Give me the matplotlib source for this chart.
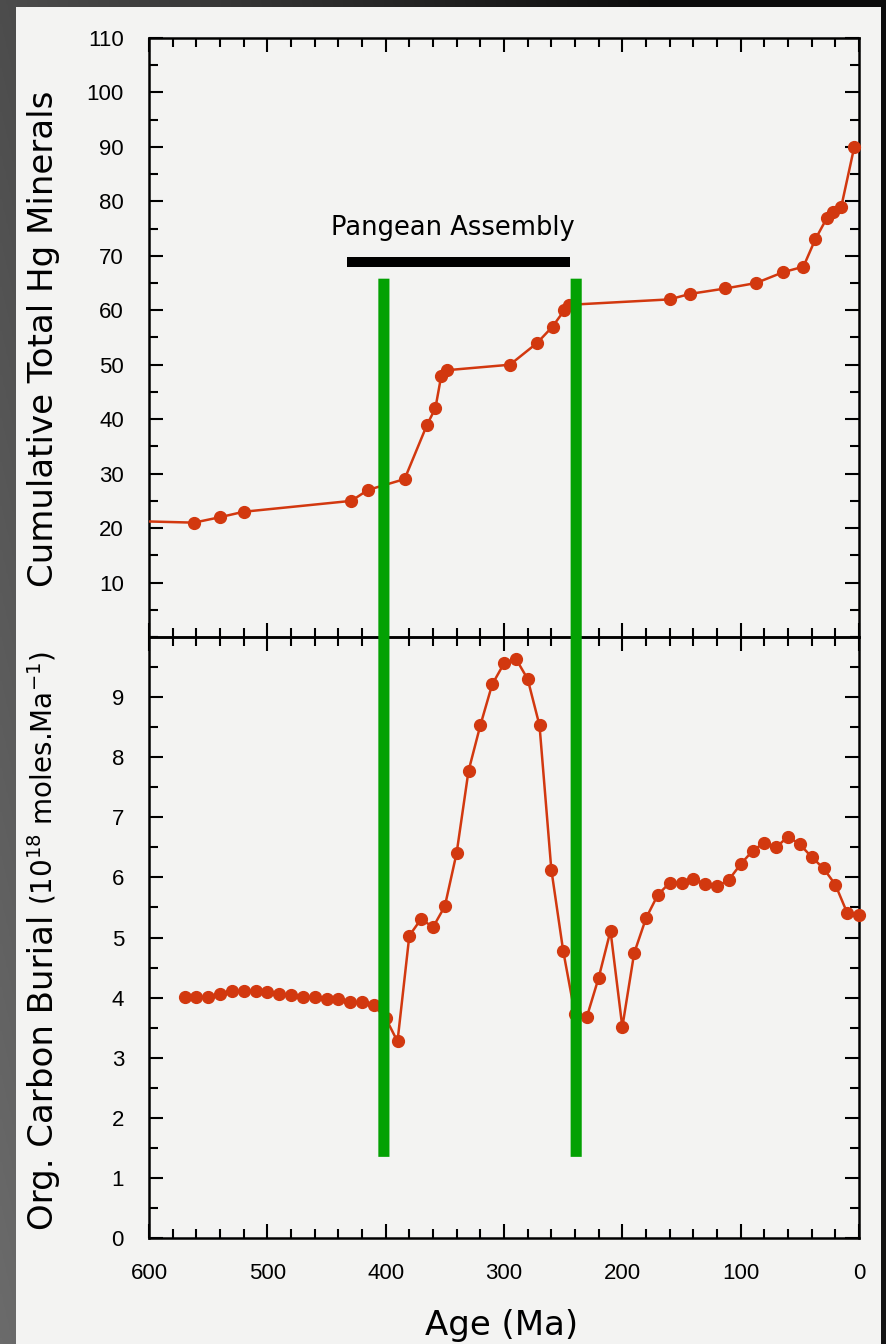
import numpy as np
import matplotlib
matplotlib.use("Agg")
import matplotlib.pyplot as plt
from matplotlib.patches import Rectangle, ConnectionPatch
from matplotlib.lines import Line2D
from matplotlib.ticker import MultipleLocator, FixedLocator

# ---- data -------------------------------------------------------------
# cumulative number of Hg minerals through time (age in Ma)
hg_age = [650, 562, 540, 520, 429, 415, 384, 365, 358, 353, 348, 295, 272,
          259, 249, 245, 160, 143, 113, 87, 64, 47, 37, 27, 22, 15, 4]
hg_total = [21.5, 21, 22, 23, 25, 27, 29, 39, 42, 48, 49, 50, 54,
            57, 60, 61, 62, 63, 64, 65, 67, 68, 73, 77, 78, 79, 90]

# organic carbon burial rate (10^18 moles per Ma)
burial_age = [570, 560, 550, 540, 530, 520, 510, 500, 490, 480, 470, 460,
              450, 440, 430, 420, 410, 400, 390, 380, 370, 360, 350, 340,
              330, 320, 310, 300, 290, 280, 270, 260, 250, 240, 230, 220,
              210, 200, 190, 180, 170, 160, 150, 140, 130, 120, 110, 100,
              90, 80, 70, 60, 50, 40, 30, 20, 10, 0]
burial_rate = [4.01, 4.01, 4.01, 4.06, 4.11, 4.11, 4.11, 4.10, 4.06, 4.05,
               4.01, 4.01, 3.97, 3.97, 3.92, 3.92, 3.87, 3.66, 3.27, 5.03,
               5.31, 5.17, 5.52, 6.41, 7.77, 8.53, 9.21, 9.56, 9.64, 9.30,
               8.53, 6.13, 4.78, 3.72, 3.68, 4.33, 5.11, 3.51, 4.74, 5.32,
               5.71, 5.91, 5.91, 5.98, 5.89, 5.85, 5.96, 6.22, 6.44, 6.58,
               6.50, 6.68, 6.55, 6.34, 6.15, 5.88, 5.41, 5.38]

# Pangean assembly interval and the two marker boundaries (Ma)
pangea_span = [433, 244]
pangea_level = 68.8
boundary_ages = [401.5, 239]
boundary_top = 65.8      # top panel units
boundary_bottom = 1.35   # bottom panel units

x_ticks = [600, 500, 400, 300, 200, 100, 0]
top_ticks = [10, 20, 30, 40, 50, 60, 70, 80, 90, 100, 110]
bottom_ticks = [0, 1, 2, 3, 4, 5, 6, 7, 8, 9]

# ---- style ------------------------------------------------------------
plt.rcParams['font.family'] = ['DejaVu Sans']
plt.rcParams['mathtext.fontset'] = 'dejavusans'
RED = '#d2380f'
GREEN = '#03a103'
PAPER = '#f3f3f2'
TICK_FONT = 'Liberation Sans'

W, H = 886, 1344
fig = plt.figure(figsize=(W / 100, H / 100), dpi=100)

# dark scanner surround with a soft gradient, plus the sheet of paper
bg = fig.add_axes([0, 0, 1, 1], zorder=-10)
bg.set_axis_off()
gx = np.linspace(0, 1, 300)
gy = np.linspace(0, 1, 300)
GX, GY = np.meshgrid(gx, gy)
shade = 0.42 - 0.34 * GX - 0.12 * GY
shade = np.clip(shade, 0.05, 1)
bg.imshow(np.dstack([shade] * 3), extent=[0, 1, 0, 1], aspect='auto',
          origin='lower')
bg.add_patch(Rectangle((16 / W, 0), (881 - 16) / W, (H - 7) / H,
                       transform=bg.transAxes, facecolor=PAPER,
                       edgecolor='none'))
bg.set_xlim(0, 1)
bg.set_ylim(0, 1)

left, right = 149 / W, 859 / W
y_top, y_mid, y_bot = 1 - 38 / H, 1 - 637 / H, 1 - 1238 / H
ax1 = fig.add_axes([left, y_mid, right - left, y_top - y_mid])
ax2 = fig.add_axes([left, y_bot, right - left, y_mid - y_bot], sharex=ax1)

for ax in (ax1, ax2):
    ax.set_facecolor('none')
    for s in ax.spines.values():
        s.set_linewidth(1.8)
    ax.tick_params(which='both', direction='in', top=True, right=True,
                   bottom=True, left=True, width=1.5, pad=18,
                   labelsize=16, colors='black')
    ax.tick_params(which='major', length=10)
    ax.tick_params(which='minor', length=6.5)
    ax.xaxis.set_major_locator(FixedLocator(x_ticks))
    ax.xaxis.set_minor_locator(MultipleLocator(20))

ax1.set_xlim(600, 0)

# ---- top panel: cumulative Hg minerals --------------------------------
ax1.set_ylim(0, 110)
ax1.yaxis.set_major_locator(FixedLocator(top_ticks))
ax1.yaxis.set_minor_locator(MultipleLocator(5))
ax1.tick_params(labelbottom=False)
ax1.plot(hg_age, hg_total, color=RED, lw=1.8, zorder=3)
vis = [(a, v) for a, v in zip(hg_age, hg_total) if a <= 600]
ax1.plot([a for a, _ in vis], [v for _, v in vis], 'o', color=RED,
         ms=8.5, zorder=4, clip_on=False)

ax1.add_line(Line2D(pangea_span, [pangea_level] * 2, color='black',
                    lw=7.2, solid_capstyle='butt', zorder=5))
ax1.text(sum(pangea_span) / 2 + 4.5, 73.8, 'Pangean Assembly',
         ha='center', va='baseline', fontsize=18.5)

# ---- bottom panel: organic carbon burial ------------------------------
ax2.set_ylim(0, 10)
ax2.yaxis.set_major_locator(FixedLocator(bottom_ticks))
ax2.yaxis.set_minor_locator(MultipleLocator(0.5))
ax2.plot(burial_age, burial_rate, '-o', color=RED, lw=1.8, ms=8.5,
         zorder=4, clip_on=False)

for ax in (ax1, ax2):
    for lab in ax.get_xticklabels() + ax.get_yticklabels():
        lab.set_fontfamily(TICK_FONT)

# green boundaries spanning both panels
for age in boundary_ages:
    con = ConnectionPatch(xyA=(age, boundary_top), coordsA=ax1.transData,
                          xyB=(age, boundary_bottom), coordsB=ax2.transData,
                          color=GREEN, lw=8, capstyle='butt', zorder=10)
    fig.add_artist(con)

# ---- axis titles ------------------------------------------------------
fig.text(53 / W, 1 - 339 / H, 'Cumulative Total Hg Minerals', rotation=90,
         rotation_mode='anchor', ha='center', va='baseline', fontsize=24.5)
big = fig.text(53 / W, 1 - 1230 / H, 'Org. Carbon Burial', rotation=90,
               rotation_mode='anchor', ha='left', va='baseline',
               fontsize=24.5)
fig.canvas.draw()
bb = big.get_window_extent(fig.canvas.get_renderer())
fig.text(53 / W, (bb.y1 + 10) / H, r'(10$^{18}$ moles.Ma$^{-1}$)',
         rotation=90, rotation_mode='anchor', ha='left', va='baseline',
         fontsize=20)
fig.text(502 / W, 1 - 1335 / H, 'Age (Ma)', ha='center', va='baseline',
         fontsize=24.5)

fig.savefig('out.png', dpi=100, facecolor=fig.get_facecolor())
